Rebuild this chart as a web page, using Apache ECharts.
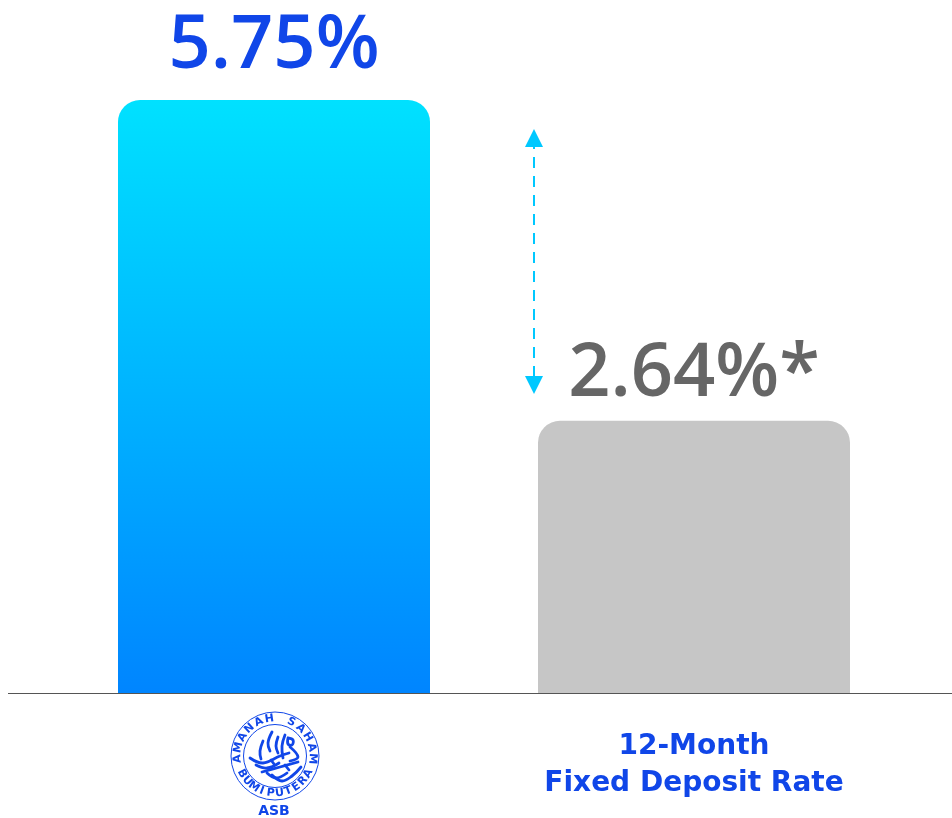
<!DOCTYPE html>
<html>
<head>
<meta charset="utf-8">
<style>html,body{margin:0;background:#fff}#chart{width:952px;height:818px}</style>
<script src="https://cdn.jsdelivr.net/npm/echarts@6/dist/echarts.min.js"></script>
</head>
<body>
<div id="chart"></div>
<script>
const categories = ['ASB', '12-Month\nFixed Deposit Rate'];
const rates = [5.75, 2.64];
const rateLabels = ['5.75%', '2.64%*'];
const ringTop = 'AMANAH SAHAM';
const ringBottom = 'BUMIPUTERA';

const blue = '#1046e8';
const valueFont = 'Open Sans';
const labelFont = 'DejaVu Sans';

// logo is just circles + letters placed around them
const logoX = 275, logoY = 756;
// rough calligraphy strokes in the middle of the logo, px from logo centre
const strokes = [
  [[10, -21], [7, -10], [8, 2]],
  [[13, -18], [18, -16], [17, -11], [13, -12], [13, -18]],
  [[-3, -24], [-7, -13], [-5, -5]],
  [[-12, -15], [-15, -5], [-14, 3]],
  [[3, -19], [1, -10], [3, -3]],
  [[-25, 2], [-12, 7], [5, 0], [14, -3]],
  [[-13, 16], [5, 11], [23, 6]],
  [[-19, 9], [-8, 12], [4, 7]],
  [[-3, 19], [7, 25], [17, 20], [26, 11]],
  [[15, -9], [23, 1], [15, 5]],
  [[-8, 17], [1, 22], [12, 17]],
  [[-4, 4], [-1, 8]],
  [[10, 9], [14, 14]]
];
let logo = [
  {type: 'circle', shape: {cx: logoX, cy: logoY, r: 44}, style: {fill: 'none', stroke: blue, lineWidth: 1}},
  {type: 'circle', shape: {cx: logoX, cy: logoY, r: 31.5}, style: {fill: 'none', stroke: blue, lineWidth: 1}}
];
strokes.forEach((pts) => {
  logo.push({
    type: 'polyline',
    x: logoX, y: logoY,
    shape: {points: pts, smooth: 0.4},
    style: {fill: 'none', stroke: blue, lineWidth: 2.8, lineCap: 'round'}
  });
});
ringTop.split('').forEach((ch, i) => {
  let t = (-94 + i * 188 / (ringTop.length - 1)) * Math.PI / 180;
  logo.push({
    type: 'text', x: logoX + 37.5 * Math.sin(t), y: logoY - 37.5 * Math.cos(t), rotation: -t,
    style: {text: ch, fill: blue, font: 'bold 11px ' + labelFont, align: 'center', verticalAlign: 'middle'}
  });
});
ringBottom.split('').forEach((ch, i) => {
  let t = (-62 + i * 124 / (ringBottom.length - 1)) * Math.PI / 180;
  logo.push({
    type: 'text', x: logoX + 37.5 * Math.sin(t), y: logoY + 37.5 * Math.cos(t), rotation: t,
    style: {text: ch, fill: blue, font: 'bold 11px ' + labelFont, align: 'center', verticalAlign: 'middle'}
  });
});

const barGradient = new echarts.graphic.LinearGradient(0, 0, 0, 1, [
  {offset: 0, color: '#00e1ff'},
  {offset: 1, color: '#0085ff'}
]);

var myChart = echarts.init(document.getElementById('chart'));
myChart.setOption({
  animation: false,
  grid: {left: 64, width: 840, top: 100, height: 594},
  xAxis: {
    type: 'category',
    data: categories,
    axisLine: {show: false},
    axisTick: {show: false},
    axisLabel: {
      margin: 35,
      interval: 0,
      formatter: (v) => v === 'ASB' ? '{asb|ASB}' : '{rate|' + v.split('\n').join('}\n{rate|') + '}',
      rich: {
        asb: {fontFamily: labelFont, fontSize: 14, fontWeight: 700, color: blue, padding: [76, 0, 0, 0]},
        rate: {fontFamily: labelFont, fontSize: 28, fontWeight: 700, color: blue, lineHeight: 37}
      }
    }
  },
  yAxis: {type: 'value', min: 0, max: 5.75, show: false},
  series: [{
    type: 'bar',
    barWidth: 312,
    data: [
      {value: rates[0], itemStyle: {color: barGradient}, label: {color: blue, distance: 16}},
      {value: rates[1], itemStyle: {color: '#c6c6c6'}, label: {color: '#666666', distance: 9}}
    ],
    itemStyle: {borderRadius: [22, 22, 0, 0]},
    label: {
      show: true,
      position: 'top',
      fontFamily: valueFont,
      fontSize: 74,
      fontWeight: 600,
      formatter: (p) => rateLabels[p.dataIndex]
    },
    markLine: {
      silent: true,
      symbol: ['triangle', 'triangle'],
      symbolSize: 18,
      label: {show: false},
      lineStyle: {color: '#00c8ff', type: [11, 8], width: 2, opacity: 1},
      data: [[{x: 534, y: 138}, {x: 534, y: 385}]]
    }
  }],
  graphic: [
    {type: 'line', z: 10, shape: {x1: 8, y1: 693.5, x2: 952, y2: 693.5}, style: {stroke: '#555555', lineWidth: 1}},
    ...logo
  ]
});
</script>
</body>
</html>
